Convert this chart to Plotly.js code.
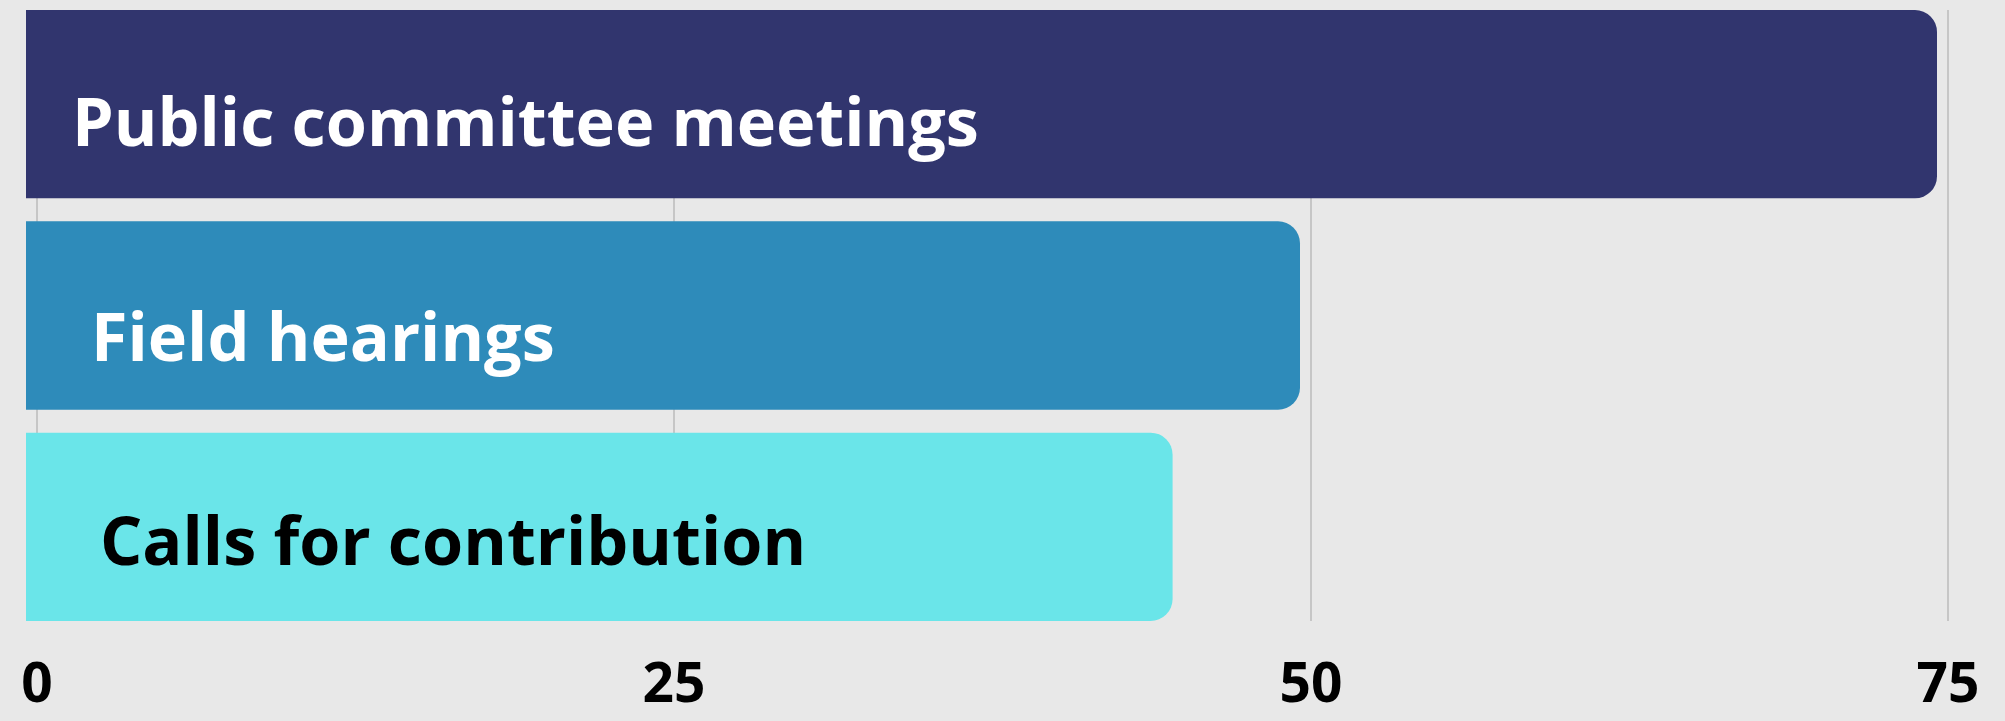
<!DOCTYPE html>
<html>
<head>
<meta charset="utf-8">
<script src="https://cdn.plot.ly/plotly-3.0.1.min.js"></script>
<style>
  html, body { margin: 0; padding: 0; background: #e8e8e8; }
  #chart { width: 2005px; height: 721px; }
</style>
</head>
<body>
<div id="chart"></div>
<script>
// ---- data ----
const categories = ["Public committee meetings", "Field hearings", "Calls for contribution"];
const values = [75, 50, 45];
const tickValues = [0, 25, 50, 75];
const tickLabels = ["0", "25", "50", "75"];

// ---- style ----
const barColors = ["#31356e", "#2e8bba", "#6ae5e9"];
const labelColors = ["#ffffff", "#ffffff", "#000000"];
const labelXShift = [44, 63, 72];
const labelYShift = [-16, -19, -12];

const pxPerUnit = 25.48;
const plotWidth = 2005 - 26 - 20;
const barMax = plotWidth / pxPerUnit;
const gridOffset = 11 / pxPerUnit;

const barTrace = {
  type: "bar",
  orientation: "h",
  x: values,
  y: categories,
  xaxis: "x2",
  yaxis: "y",
  marker: { color: barColors, cornerradius: 22, line: { width: 0 } },
  hoverinfo: "none",
  textposition: "none"
};

// empty trace so the grid / tick axis subplot is built
const gridTrace = {
  type: "scatter",
  mode: "markers",
  x: [],
  y: [],
  xaxis: "x",
  yaxis: "y",
  hoverinfo: "skip",
  showlegend: false
};

const annotations = categories.map((c, i) => ({
  xref: "paper", yref: "y",
  x: 0, y: c,
  xanchor: "left", yanchor: "middle",
  xshift: labelXShift[i], yshift: labelYShift[i],
  text: c,
  showarrow: false,
  font: { family: "Open Sans", size: 66.5, weight: 700, color: labelColors[i] }
}));

const layout = {
  width: 2005,
  height: 721,
  margin: { l: 26, r: 20, t: 10, b: 100, pad: 0 },
  paper_bgcolor: "#e8e8e8",
  plot_bgcolor: "#e8e8e8",
  showlegend: false,
  bargap: 0.109,
  xaxis: {
    range: [-gridOffset, barMax - gridOffset],
    tickvals: tickValues,
    ticktext: tickLabels,
    showgrid: true,
    gridcolor: "#c6c6c6",
    gridwidth: 1.5,
    zeroline: false,
    showline: false,
    ticks: "",
    ticklabelstandoff: 25,
    tickfont: { family: "Open Sans", size: 55, weight: 700, color: "#000000" },
    fixedrange: true
  },
  xaxis2: {
    overlaying: "x",
    anchor: "y",
    range: [0, barMax],
    visible: false,
    showgrid: false,
    zeroline: false,
    fixedrange: true
  },
  yaxis: {
    type: "category",
    categoryorder: "array",
    categoryarray: categories,
    range: [2.4455, -0.4455],
    showgrid: false,
    zeroline: false,
    showticklabels: false,
    ticks: "",
    fixedrange: true
  },
  annotations: annotations
};

Plotly.newPlot("chart", [gridTrace, barTrace], layout, { displayModeBar: false, staticPlot: true });
</script>
</body>
</html>
